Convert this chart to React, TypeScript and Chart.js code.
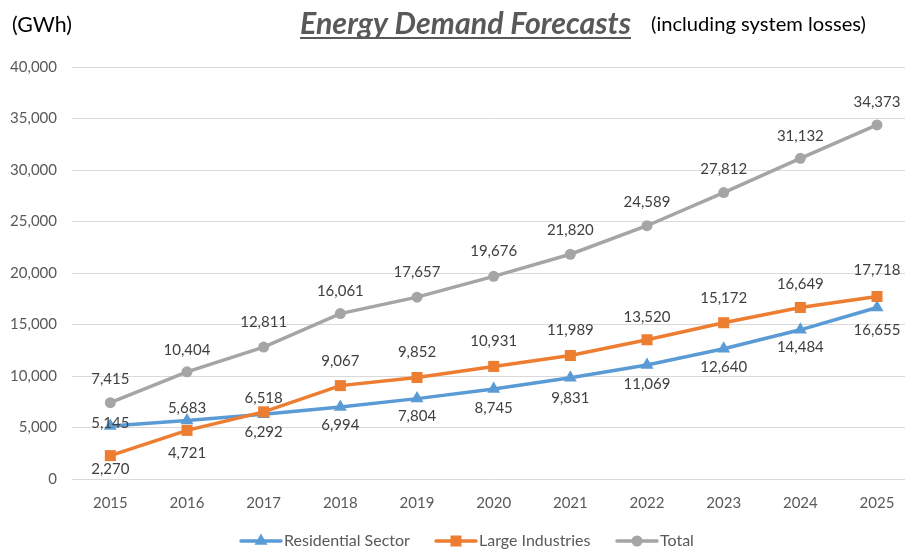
import React, { useEffect, useRef } from 'react';
import { Chart, registerables } from 'chart.js';
Chart.register(...registerables);

const years = [2015, 2016, 2017, 2018, 2019, 2020, 2021, 2022, 2023, 2024, 2025];
const residential = [5145, 5683, 6292, 6994, 7804, 8745, 9831, 11069, 12640, 14484, 16655];
const industries = [2270, 4721, 6518, 9067, 9852, 10931, 11989, 13520, 15172, 16649, 17718];
const total = [7415, 10404, 12811, 16061, 17657, 19676, 21820, 24589, 27812, 31132, 34373];
const seriesNames = ['Residential Sector', 'Large Industries', 'Total'];
const yTicks = [0, 5000, 10000, 15000, 20000, 25000, 30000, 35000, 40000];

// label vertical offsets (pixels) – style only
const resDy = [-3, -12, 18, 18, 18, 19, 20, 19, 18, 17, 23];
const indDy = [14, 23, -14, -24, -25, -25, -25, -23, -25, -23, -26];
const totDy = [-23, -22, -25, -22, -25, -25, -24, -24, -23, -22, -23];

const FONT = 'Lato, "Open Sans", sans-serif';
const BLUE = '#5B9BD5';
const ORANGE = '#ED7D31';
const GRAY = '#A5A5A5';
const TEXT = '#595959';
const LABEL = '#404040';

function fitFont(ctx: CanvasRenderingContext2D, text: string, prefix: string, target: number) {
  ctx.font = `${prefix} 20px ${FONT}`;
  const w = ctx.measureText(text).width;
  const size = (20 * target) / w;
  return `${prefix} ${size.toFixed(2)}px ${FONT}`;
}

function drawMarker(ctx: CanvasRenderingContext2D, style: string, x: number, y: number, color: string) {
  ctx.fillStyle = color;
  ctx.beginPath();
  if (style === 'triangle') {
    const r = 7.5;
    ctx.moveTo(x, y - r);
    ctx.lineTo(x + r * 0.866, y + r * 0.5);
    ctx.lineTo(x - r * 0.866, y + r * 0.5);
    ctx.closePath();
  } else if (style === 'rect') {
    ctx.rect(x - 5.5, y - 5.5, 11, 11);
  } else {
    ctx.arc(x, y, 5.5, 0, Math.PI * 2);
  }
  ctx.fill();
}

const decorPlugin = {
  id: 'decor',
  afterDraw(chart: any) {
    const ctx: CanvasRenderingContext2D = chart.ctx;
    ctx.save();
    // data labels
    const dys = [resDy, indDy, totDy];
    const vals = [residential, industries, total];
    ctx.font = `15px ${FONT}`;
    ctx.fillStyle = LABEL;
    ctx.textAlign = 'center';
    ctx.textBaseline = 'middle';
    for (let d = 0; d < 3; d++) {
      const meta = chart.getDatasetMeta(d);
      meta.data.forEach((pt: any, i: number) => {
        ctx.fillText(vals[d][i].toLocaleString('en-US'), pt.x, pt.y + dys[d][i]);
      });
    }
    // header texts
    ctx.fillStyle = '#000000';
    ctx.textAlign = 'left';
    ctx.font = fitFont(ctx, '(GWh)', '', 60);
    ctx.fillText('(GWh)', 12, 25);
    ctx.font = fitFont(ctx, '(including system losses)', '', 215);
    ctx.fillText('(including system losses)', 651, 24);
    ctx.fillStyle = TEXT;
    ctx.font = fitFont(ctx, 'Energy Demand Forecasts', 'italic bold', 331);
    ctx.fillText('Energy Demand Forecasts', 300, 24);
    ctx.fillRect(300, 37, 331, 2);
    // legend
    const items = [
      { name: seriesNames[0], color: BLUE, style: 'triangle', x: 241 },
      { name: seriesNames[1], color: ORANGE, style: 'rect', x: 436 },
      { name: seriesNames[2], color: GRAY, style: 'circle', x: 617 },
    ];
    const ly = 541;
    items.forEach((it) => {
      ctx.strokeStyle = it.color;
      ctx.lineWidth = 3.5;
      ctx.lineCap = 'round';
      ctx.beginPath();
      ctx.moveTo(it.x, ly);
      ctx.lineTo(it.x + 40, ly);
      ctx.stroke();
      drawMarker(ctx, it.style, it.x + 20, ly, it.color);
      ctx.fillStyle = TEXT;
      ctx.font = `16px ${FONT}`;
      ctx.textAlign = 'left';
      ctx.textBaseline = 'middle';
      ctx.fillText(it.name, it.x + 43, ly);
    });
    ctx.restore();
  },
};

export default function App() {
  const ref = useRef<HTMLCanvasElement>(null);
  useEffect(() => {
    document.body.style.margin = '0';
    const mk = (vals: number[]) => years.map((y, i) => ({ x: y, y: vals[i] }));
    const chart = new Chart(ref.current!, {
      type: 'line',
      data: {
        datasets: [
          {
            label: seriesNames[0],
            data: mk(residential),
            borderColor: BLUE,
            backgroundColor: BLUE,
            borderWidth: 3.5,
            pointStyle: 'triangle',
            pointRadius: 7.5,
            pointBorderWidth: 0,
            order: 3,
          },
          {
            label: seriesNames[1],
            data: mk(industries),
            borderColor: ORANGE,
            backgroundColor: ORANGE,
            borderWidth: 3.5,
            pointStyle: 'rect',
            pointRadius: 7.8,
            pointBorderWidth: 0,
            order: 2,
          },
          {
            label: seriesNames[2],
            data: mk(total),
            borderColor: GRAY,
            backgroundColor: GRAY,
            borderWidth: 3.5,
            pointStyle: 'circle',
            pointRadius: 5.5,
            pointBorderWidth: 0,
            order: 1,
          },
        ],
      },
      options: {
        animation: false,
        responsive: false,
        devicePixelRatio: 1,
        layout: { autoPadding: false, padding: { top: 67, bottom: 30, left: 0, right: 0 } },
        plugins: { legend: { display: false }, tooltip: { enabled: false }, title: { display: false } },
        elements: { line: { tension: 0 } },
        scales: {
          x: {
            type: 'linear',
            min: 2014.5,
            max: 2025.365,
            afterBuildTicks: (axis: any) => {
              axis.ticks = years.map((v) => ({ value: v }));
            },
            afterFit: (axis: any) => {
              axis.height = 40;
              axis.paddingLeft = 0;
              axis.paddingRight = 0;
            },
            ticks: {
              autoSkip: false,
              maxRotation: 0,
              padding: 7,
              color: TEXT,
              font: { family: FONT, size: 15 },
              callback: (v: any) => String(v),
            },
            grid: { display: false },
            border: { display: false },
          },
          y: {
            min: 0,
            max: 40000,
            afterBuildTicks: (axis: any) => {
              axis.ticks = yTicks.map((v) => ({ value: v }));
            },
            afterFit: (axis: any) => {
              axis.width = 72;
            },
            ticks: {
              padding: 15,
              color: TEXT,
              font: { family: FONT, size: 15 },
              callback: (v: any) => Number(v).toLocaleString('en-US'),
            },
            grid: { color: '#D9D9D9', lineWidth: 1, drawTicks: false },
            border: { display: false },
          },
        },
      },
      plugins: [decorPlugin],
    } as any);
    return () => chart.destroy();
  }, []);
  return (
    <div style={{ width: 905, height: 549 }}>
      <canvas ref={ref} width={905} height={549} style={{ display: 'block' }} />
    </div>
  );
}
